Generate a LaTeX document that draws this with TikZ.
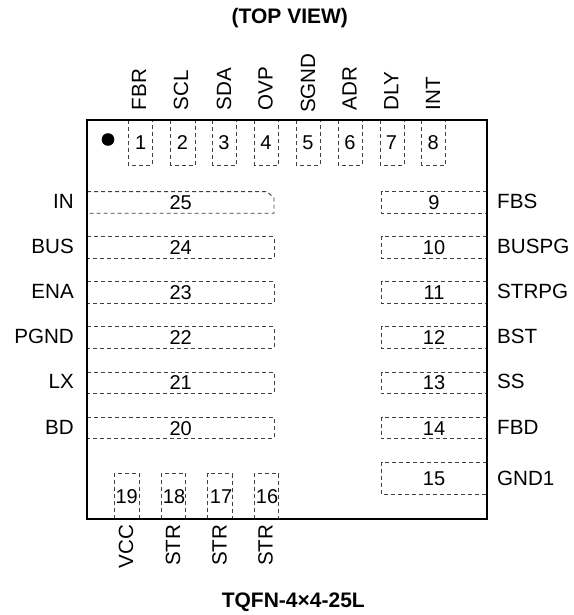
\documentclass[tikz,border=0pt]{standalone}
\usepackage{fontspec}
\setmainfont{Liberation Sans}
\tikzset{
  padbox/.style={draw=black!75,dash pattern=on 4pt off 3pt,line width=0.9pt,fill=none},
  pin/.style={inner sep=0pt,font=\fontsize{20.6}{22}\selectfont},
  num/.style={inner sep=0pt,anchor=base,font=\fontsize{20}{22}\selectfont},
  title/.style={inner sep=0pt,anchor=base,font=\fontsize{21}{23}\selectfont\bfseries},
  pkg/.style={draw=black,line width=2.4pt,line join=miter}
}
\begin{document}
\begin{tikzpicture}[x=1pt,y=-1pt]
\useasboundingbox (0,0) rectangle (573,615);
% top pads
\foreach \n/\xa/\xb/\tx in {1/128/152.3/140.7,2/170.5/195/182.5,3/212.5/236.5/224,4/254.5/278.5/266,5/296/320/308,6/338/362/350,7/380/404/391.5,8/421.5/445.5/433.3}{
  \draw[padbox] (\xa,120) rectangle (\xb,165);
  \node[num] (n\n) at (\tx,149.3) {\n};
}
% left pads
\draw[padbox] (87,191.6) -- (267,191.6) -- (274,198) -- (274,213.2) -- (87,213.2);
\node[num] (n25) at (180.7,209) {25};
\foreach \n/\y/\b in {24/236.7/254,23/281.8/299,22/326.9/344,21/372/389,20/417.1/435}{
  \draw[padbox] (87,\y) rectangle (274,\y+21.6);
  \node[num] (n\n) at (180.7,\b) {\n};
}
% right pads
\foreach \n/\y/\b in {9/191.6/209,10/236.7/254,11/281.8/299,12/326.9/344,13/372/389,14/417.1/435}{
  \draw[padbox] (487,\y) -- (381.5,\y) -- (381.5,\y+21.6) -- (487,\y+21.6);
  \node[num] (n\n) at (434,\b) {\n};
}
\draw[padbox] (487,462) -- (381.5,462) -- (381.5,494.3) -- (487,494.3);
\node[num] (n15) at (434,485) {15};
% bottom pads
\foreach \n/\xa/\xb/\tx in {19/114.3/139.3/126.7,18/161/185.7/174,17/207.5/232/221,16/254/278.5/267}{
  \draw[padbox] (\xa,519) -- (\xa,473.5) -- (\xb,473.5) -- (\xb,519);
  \node[num] (n\n) at (\tx,503.3) {\n};
}
% package
\draw[pkg] (87,120) rectangle (486.7,519);
\fill[black] (108,139.5) circle (6.3);
% top labels
\foreach \t/\x/\y in {FBR/146.2/110.5,SCL/188.1/110.5,SDA/231/110.5,OVP/272.7/110.5,SGND/315/113,ADR/356.5/110.5,DLY/398.3/110.5,INT/440/110.5}{
  \node[pin,rotate=90,anchor=base west] (l\t) at (\x,\y) {\t};
}
% bottom labels
\foreach \t/\k/\x in {VCC/a/133,STR/b/180,STR/c/226.7,STR/d/272.7}{
  \node[pin,rotate=90,anchor=base east] (b\k) at (\x,524.5) {\t};
}
% left labels
\foreach \t/\y in {IN/208.3,BUS/253.3,ENA/298.3,PGND/343.3,LX/388.3,BD/434}{
  \node[pin,anchor=base east] (l\t) at (74,\y) {\t};
}
% right labels
\foreach \t/\y in {FBS/208.3,BUSPG/253.3,STRPG/298.3,BST/343.3,SS/388.3,FBD/434,GND1/485}{
  \node[pin,anchor=base west] (r\t) at (497,\y) {\t};
}
\node[title] (head) at (289.8,24) {(TOP VIEW)};
\node[title] (foot) at (293.3,607.7) {TQFN-4×4-25L};
\end{tikzpicture}
\end{document}
